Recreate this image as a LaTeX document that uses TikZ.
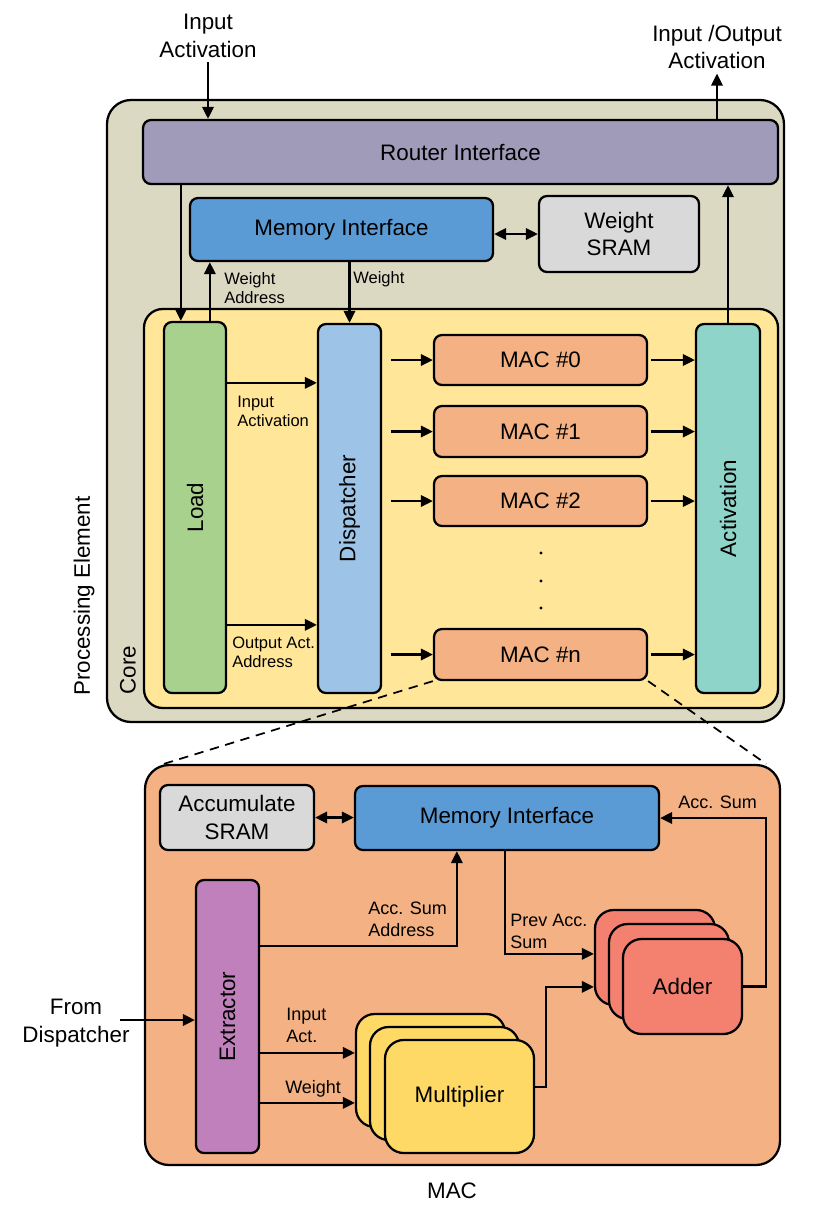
\documentclass[tikz,border=0pt]{standalone}
\usepackage{fontspec}
\setmainfont{Liberation Sans}
\usetikzlibrary{arrows.meta,calc,fit}
\definecolor{cpe}{HTML}{DCD9C3}
\definecolor{crouter}{HTML}{A09BB9}
\definecolor{cmem}{HTML}{5B9BD5}
\definecolor{csram}{HTML}{D9D9D9}
\definecolor{ccore}{HTML}{FFE699}
\definecolor{cload}{HTML}{A9D18E}
\definecolor{cdisp}{HTML}{9DC3E6}
\definecolor{cact}{HTML}{8FD4C8}
\definecolor{cmac}{HTML}{F4B183}
\definecolor{cextr}{HTML}{C080BC}
\definecolor{cmult}{HTML}{FFD966}
\definecolor{cadd}{HTML}{F4806F}
\begin{document}
\begin{tikzpicture}[x=0.75pt,y=-0.75pt,
 box/.style={draw=black,line width=1.7pt,rounded corners=6pt,inner sep=0pt},
 big/.style={font=\fontsize{16.8}{20.5}\selectfont,align=center},
 sml/.style={font=\fontsize{12.4}{14.2}\selectfont,align=left,inner sep=0pt},
 msml/.style={font=\fontsize{13.5}{16.5}\selectfont,align=left,inner sep=0pt},
 arr/.style={line width=1.7pt,-{Triangle[length=9pt,width=8.5pt]}},
 darr/.style={line width=1.7pt,{Triangle[length=9pt,width=8.5pt]}-{Triangle[length=9pt,width=8.5pt]}},
 zoomline/.style={line width=1.3pt,dash pattern=on 7pt off 5pt},
]
\useasboundingbox (0,0) rectangle (814,1218);

% ---------- Processing element ----------
\node[box,fill=cpe,rounded corners=18pt,fit={(107,100)(784,722)}] (pe) {};
\node[big,rotate=90] (pet) at (84,596) {Processing Element};
\node[box,fill=crouter,fit={(143,120)(778,184)}] (router) {};
\node[big] (routert) at (router) {Router Interface};
\node[box,fill=cmem,fit={(190,198)(493,261)}] (mem1) {};
\node[big] (mem1t) at (mem1) {Memory Interface};
\node[box,fill=csram,fit={(539,196)(699,272)}] (wsram) {};
\node[big] (wsramt) at (wsram) {Weight\\SRAM};
\node[box,fill=ccore,rounded corners=14pt,fit={(144,309)(778,708)}] (core) {};
\node[big,rotate=90] (coret) at (128,670) {Core};
\node[box,fill=cload,fit={(164,322)(226,693)}] (load) {};
\node[big,rotate=90] (loadt) at (load) {Load};
\node[box,fill=cdisp,fit={(318,324)(381,693)}] (disp) {};
\node[big,rotate=90] (dispt) at (disp) {Dispatcher};
\node[box,fill=cact,fit={(696,324)(760,693)}] (act) {};
\node[big,rotate=90] (actt) at (act) {Activation};
\node[box,fill=cmac,fit={(434,335)(647,385)}] (mac0) {};
\node[big] (mac0t) at (mac0) {MAC \#0};
\node[box,fill=cmac,fit={(434,406)(647,457)}] (mac1) {};
\node[big] (mac1t) at (mac1) {MAC \#1};
\node[box,fill=cmac,fit={(434,476)(647,526)}] (mac2) {};
\node[big] (mac2t) at (mac2) {MAC \#2};
\node[box,fill=cmac,fit={(434,629)(647,680)}] (macn) {};
\node[big] (macnt) at (macn) {MAC \#n};
\fill (541,553) circle (1.3pt) (541,581) circle (1.3pt) (541,608) circle (1.3pt);

% top labels and arrows
\node[big] (iatop) at (208,36) {Input\\Activation};
\node[big] (iotop) at (717,47) {Input /Output\\Activation};
\draw[arr] (iatop.south) -- (iatop.south |- router.north);
\draw[arr] (iotop.south |- router.north) -- (iotop.south);

\coordinate (lx1) at ($(load.north west)+(18,0)$);
\coordinate (lx2) at ($(load.north west)+(47,0)$);
\draw[arr] (lx1 |- router.south) -- (lx1);
\draw[arr] (lx2) -- (lx2 |- mem1.south);
\node[sml,anchor=west] (wat) at (224,288) {Weight\\Address};
\draw[arr] (mem1.south -| disp.north) -- (disp.north);
\node[sml,anchor=west] (wt) at (353,279) {Weight};
\draw[darr] (wsram.west -| mem1.east) -- (wsram.west);
\draw[arr] (act.north) -- (act.north |- router.south);

\coordinate (l1) at ($(load.north east)+(0,62)$);
\coordinate (l2) at ($(load.north east)+(0,304)$);
\draw[arr] (l1) -- (l1 -| disp.west);
\draw[arr] (l2) -- (l2 -| disp.west);
\node[sml,anchor=west] (iat2) at (237,411) {Input\\Activation};
\node[sml,anchor=west] (oat) at (232,652) {Output Act.\\Address};

\foreach \m in {mac0,mac1,mac2,macn}{
  \draw[arr,shorten <=7pt] (\m.west -| disp.east) -- (\m.west);
  \draw[arr,shorten <=2pt] (\m.east) -- (\m.east -| act.west);
}

% ---------- MAC detail ----------
\node[box,fill=cmac,rounded corners=18pt,fit={(145,765)(780,1165)}] (macbox) {};
\draw[zoomline] (macn.south west) -- ($(macbox.north west)+(20,0)$);
\draw[zoomline] (macn.south east) -- ($(macbox.north east)+(-15,0)$);
\node[big] (mact) at (452,1191) {MAC};
\node[box,fill=csram,fit={(160,785)(314,850)}] (accsram) {};
\node[big] (accsramt) at (accsram) {Accumulate\\SRAM};
\node[box,fill=cmem,fit={(355,786)(659,850)}] (mem2) {};
\node[big] (mem2t) at (mem2) {Memory Interface};
\node[box,fill=cextr,fit={(196,880)(259,1153)}] (extr) {};
\node[big,rotate=90] (extrt) at (extr) {Extractor};
\node[box,fill=cmult,rounded corners=14pt,fit={(356,1014)(505,1127)}] (mb) {};
\node[box,fill=cmult,rounded corners=14pt,fit={(370,1027)(519,1140)}] (mm) {};
\node[box,fill=cmult,rounded corners=14pt,fit={(385,1040)(534,1153)}] (mf) {};
\node[big] (mft) at (mf) {Multiplier};
\node[box,fill=cadd,rounded corners=14pt,fit={(595,910)(715,1005)}] (ab) {};
\node[box,fill=cadd,rounded corners=14pt,fit={(609,924)(729,1019)}] (am) {};
\node[box,fill=cadd,rounded corners=14pt,fit={(623,939)(742,1034)}] (af) {};
\node[big] (aft) at (af) {Adder};

\draw[darr] (accsram.east) -- (accsram.east -| mem2.west);
\coordinate (fd) at (120,1020);
\node[big] (fdt) at (76,1023) {From\\Dispatcher};
\draw[arr] (fd) -- (fd -| extr.west);

\coordinate (e1) at ($(extr.north east)+(0,67)$);
\draw[arr] (e1) -| ($(mem2.south west)+(103,0)$);
\node[msml,anchor=west] (ast) at (368,919) {Acc. Sum\\Address};
\coordinate (m1) at ($(mem2.south west)+(151,0)$);
\draw[arr] (m1) |- ($(ab.north west)+(0,45)$);
\node[msml,anchor=west] (pat) at (510,931) {Prev Acc.\\Sum};
\draw[arr] ($(mf.north east)+(0,48)$) -- ++(11,0) |- ($(ab.north west)+(0,78)$);
\draw[arr] (af.east) -- ++(23,0) |- (mem2.east);
\node[msml,anchor=west] (ast2) at (678,802) {Acc. Sum};

\coordinate (e2) at ($(extr.north east)+(0,174)$);
\coordinate (e3) at ($(extr.north east)+(0,224)$);
\draw[arr] (e2) -- (e2 -| mb.west);
\draw[arr] (e3) -- (e3 -| mb.west);
\node[msml,anchor=west] (iat3) at (286,1025) {Input\\Act.};
\node[msml,anchor=west] (wt2) at (285,1089) {Weight};
\end{tikzpicture}
\end{document}
